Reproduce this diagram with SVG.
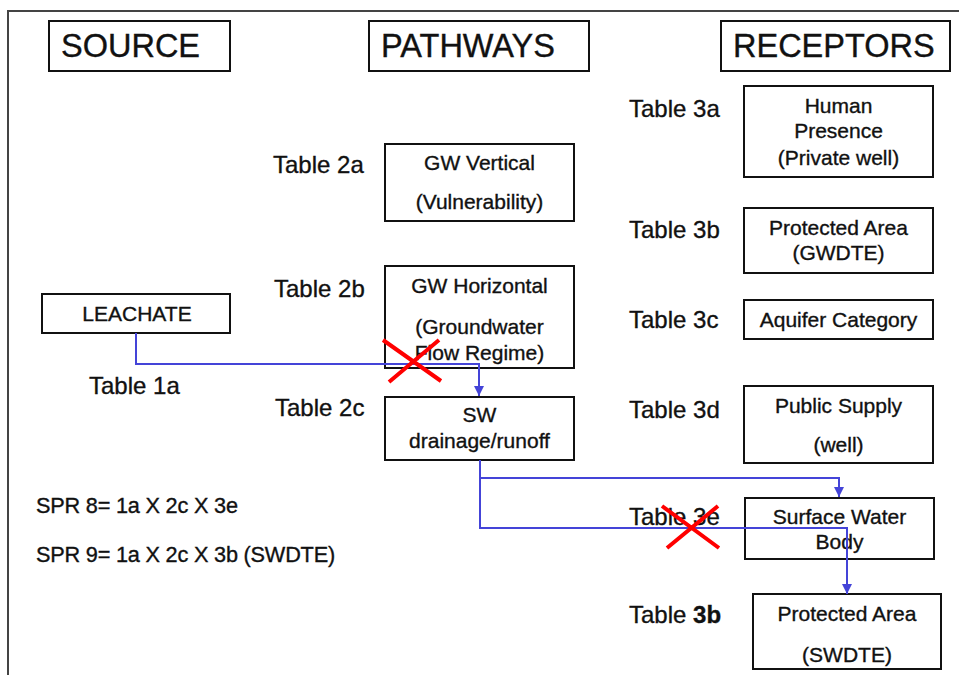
<svg xmlns="http://www.w3.org/2000/svg" width="959" height="675" viewBox="0 0 959 675">
<defs>
<style>
.box{fill:#fff;stroke:#111;stroke-width:2}
text{stroke:#111;stroke-width:0.35}
.hd{font-family:"Liberation Sans",Arial,sans-serif;font-size:32.5px;fill:#111}
.bt{font-family:"Liberation Sans",Arial,sans-serif;font-size:21px;fill:#111;text-anchor:middle}
.tl{font-family:"Liberation Sans",Arial,sans-serif;font-size:24px;fill:#111}
.spr{font-family:"Liberation Sans",Arial,sans-serif;font-size:21.7px;fill:#111;letter-spacing:-0.2px}
.con{fill:none;stroke:#4444d8;stroke-width:2}
.x{stroke:#f00;stroke-width:4;fill:none}
</style>
<marker id="arr" viewBox="0 0 10 10" refX="10" refY="5" markerWidth="5.5" markerHeight="5" orient="auto" markerUnits="strokeWidth">
<path d="M0,0 L10,5 L0,10 z" fill="#4444d8"/>
</marker>
</defs>
<rect width="959" height="675" fill="#fff"/>
<path d="M8,675 V11 H959" fill="none" stroke="#444" stroke-width="2"/>

<g id="source-header"><rect class="box" x="49" y="21" width="181" height="50"/><text class="hd" x="61" y="57">SOURCE</text></g>
<g id="pathways-header"><rect class="box" x="369" y="21" width="220" height="50"/><text class="hd" x="381" y="57">PATHWAYS</text></g>
<g id="receptors-header"><rect class="box" x="721" y="21" width="229" height="50"/><text class="hd" x="733" y="57">RECEPTORS</text></g>

<g id="leachate"><rect class="box" x="42" y="294" width="188" height="39"/><text class="bt" x="137" y="321">LEACHATE</text></g>
<g id="table1a"><text class="tl" x="89" y="394">Table 1a</text></g>

<g id="gw-vertical"><text class="tl" x="273" y="173">Table 2a</text><rect class="box" x="385" y="144" width="189" height="77"/><text class="bt" x="479.5" y="170">GW Vertical</text><text class="bt" x="479.5" y="209">(Vulnerability)</text></g>
<g id="gw-horizontal"><text class="tl" x="274" y="297">Table 2b</text><rect class="box" x="385" y="266" width="189" height="102"/><text class="bt" x="479.5" y="293">GW Horizontal</text><text class="bt" x="479.5" y="334">(Groundwater</text><text class="bt" x="479.5" y="360">Flow Regime)</text></g>
<g id="sw-drainage"><text class="tl" x="275" y="416">Table 2c</text><rect class="box" x="385" y="397" width="189" height="63"/><text class="bt" x="479.5" y="422">SW</text><text class="bt" x="479.5" y="448">drainage/runoff</text></g>

<g id="human-presence"><text class="tl" x="629" y="117">Table 3a</text><rect class="box" x="744" y="86" width="189" height="91"/><text class="bt" x="838.5" y="113">Human</text><text class="bt" x="838.5" y="138">Presence</text><text class="bt" x="838.5" y="165">(Private well)</text></g>
<g id="protected-gwdte"><text class="tl" x="629" y="238">Table 3b</text><rect class="box" x="744" y="208" width="189" height="65"/><text class="bt" x="838.5" y="235">Protected Area</text><text class="bt" x="838.5" y="260">(GWDTE)</text></g>
<g id="aquifer-category"><text class="tl" x="629" y="328">Table 3c</text><rect class="box" x="744" y="300" width="189" height="39"/><text class="bt" x="838.5" y="327">Aquifer Category</text></g>
<g id="public-supply"><text class="tl" x="629" y="418">Table 3d</text><rect class="box" x="744" y="386" width="189" height="77"/><text class="bt" x="838.5" y="413">Public Supply</text><text class="bt" x="838.5" y="452">(well)</text></g>
<g id="surface-water"><text class="tl" x="629" y="525">Table 3e</text><rect class="box" x="745" y="498" width="189" height="61"/><text class="bt" x="839.5" y="524">Surface Water</text><text class="bt" x="839.5" y="549">Body</text></g>
<g id="protected-swdte"><text class="tl" x="629" y="623">Table <tspan font-weight="bold">3b</tspan></text><rect class="box" x="753" y="594" width="188" height="75"/><text class="bt" x="847" y="621">Protected Area</text><text class="bt" x="847" y="662">(SWDTE)</text></g>

<g id="spr-notes">
<text class="spr" x="36" y="513">SPR 8= 1a X 2c X 3e</text>
<text class="spr" x="36" y="562">SPR 9= 1a X 2c X 3b (SWDTE)</text>
</g>

<g id="connectors">
<path class="con" d="M136,333 V364 H479 V396" marker-end="url(#arr)"/>
<path class="con" d="M480,460 V478 H839 V497" marker-end="url(#arr)"/>
<path class="con" d="M480,478 V528 H847 V594" marker-end="url(#arr)"/>
</g>

<g id="crosses">
<path class="x" d="M383,340 L441,381 M439,340 L389,382"/>
<path class="x" d="M662,506 L719,548 M718,506 L667,548"/>
</g>
</svg>
